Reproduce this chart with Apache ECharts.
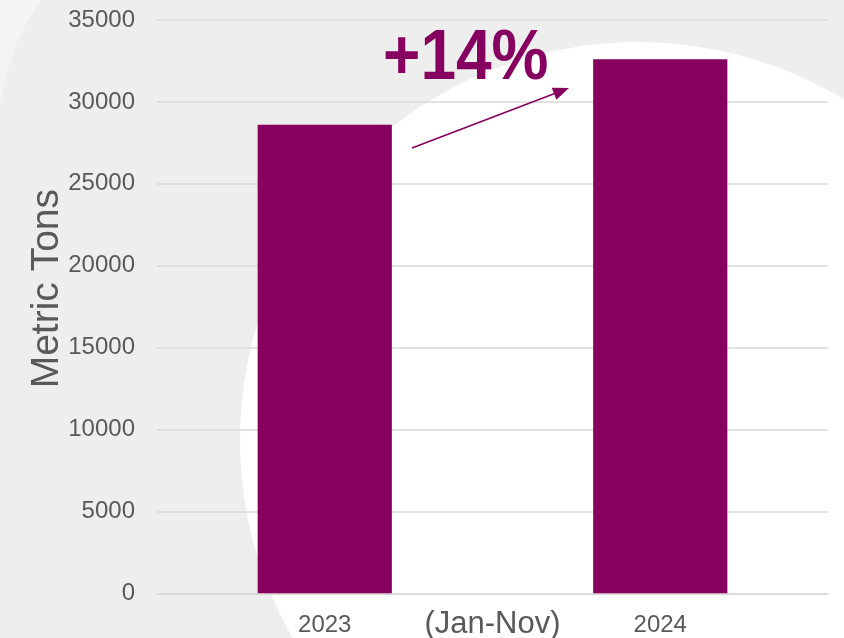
<!DOCTYPE html>
<html>
<head>
<meta charset="utf-8">
<script src="https://cdn.jsdelivr.net/npm/echarts@6/dist/echarts.min.js"></script>
<style>
html,body{margin:0;padding:0;background:#eeeeee;}
#chart{width:844px;height:638px;}
</style>
</head>
<body>
<div id="chart"></div>
<script>
// ---- data ----
var categories = ['2023', '2024'];
var values = [28600, 32600];
var yTicks = [0, 5000, 10000, 15000, 20000, 25000, 30000, 35000];
var yAxisTitle = 'Metric Tons';
var periodLabel = '(Jan-Nov)';
var changeLabel = '+14%';

var purple = '#86005F';
var textGray = '#595959';
var gridGray = '#d9d9d9';

var chart = echarts.init(document.getElementById('chart'), null, {renderer: 'canvas'});

// arrow annotation
var ax1 = 412, ay1 = 148, ax2 = 569, ay2 = 88;
var ang = Math.atan2(ay2 - ay1, ax2 - ax1);
var hl = 16, hw = 6.5;
var bx = ax2 - hl * Math.cos(ang), by = ay2 - hl * Math.sin(ang);
var head = [
  [ax2, ay2],
  [bx + hw * Math.sin(ang), by - hw * Math.cos(ang)],
  [bx - hw * Math.sin(ang), by + hw * Math.cos(ang)]
];

var option = {
  backgroundColor: '#eeeeee',
  animation: false,
  graphic: [
    { type: 'circle', z: -10, silent: true, shape: {cx: 638, cy: 440, r: 398}, style: {fill: '#ffffff'} },
    { type: 'polygon', z: -10, silent: true, shape: {points: [[0,0],[42,0],[28,20],[16,45],[6,75],[0,105]]}, style: {fill: '#ffffff', opacity: 0.35} },
    { type: 'line', z: 10, shape: {x1: ax1, y1: ay1, x2: bx, y2: by}, style: {stroke: purple, lineWidth: 1.6} },
    { type: 'polygon', z: 10, shape: {points: head}, style: {fill: purple} },
    { type: 'text', z: 10, left: 383, top: 24, scaleY: 1.1, style: {text: changeLabel, fill: purple, font: 'bold 64px "Liberation Sans", Arial, sans-serif'} }
  ],
  grid: { left: 157, right: 16, top: 20, bottom: 44.7, containLabel: false, outerBoundsMode: 'none' },
  xAxis: {
    type: 'category',
    data: categories,
    name: periodLabel,
    nameLocation: 'middle',
    nameGap: 16,
    nameMoveOverlap: false,
    nameTextStyle: { color: textGray, fontSize: 31, fontFamily: 'Liberation Sans' },
    axisLine: { show: true, lineStyle: { color: gridGray, width: 1.5 } },
    axisTick: { show: false },
    axisLabel: { color: textGray, fontSize: 24, fontFamily: 'Liberation Sans', margin: 20 }
  },
  yAxis: {
    type: 'value',
    min: yTicks[0],
    max: yTicks[yTicks.length - 1],
    interval: yTicks[1] - yTicks[0],
    name: yAxisTitle,
    nameLocation: 'middle',
    nameGap: 90,
    nameRotate: 90,
    nameMoveOverlap: false,
    nameTextStyle: { color: textGray, fontSize: 39, fontFamily: 'Liberation Sans', padding: [0, 0, 0, 36] },
    axisLine: { show: false },
    axisTick: { show: false },
    axisLabel: { color: textGray, fontSize: 24, fontFamily: 'Liberation Sans', margin: 22, formatter: function (v) { return String(v); } },
    splitLine: { show: true, lineStyle: { color: gridGray, width: 1.5 } }
  },
  series: [{
    type: 'bar',
    data: values,
    barWidth: '40%',
    itemStyle: { color: purple }
  }]
};
chart.setOption(option);
</script>
</body>
</html>
